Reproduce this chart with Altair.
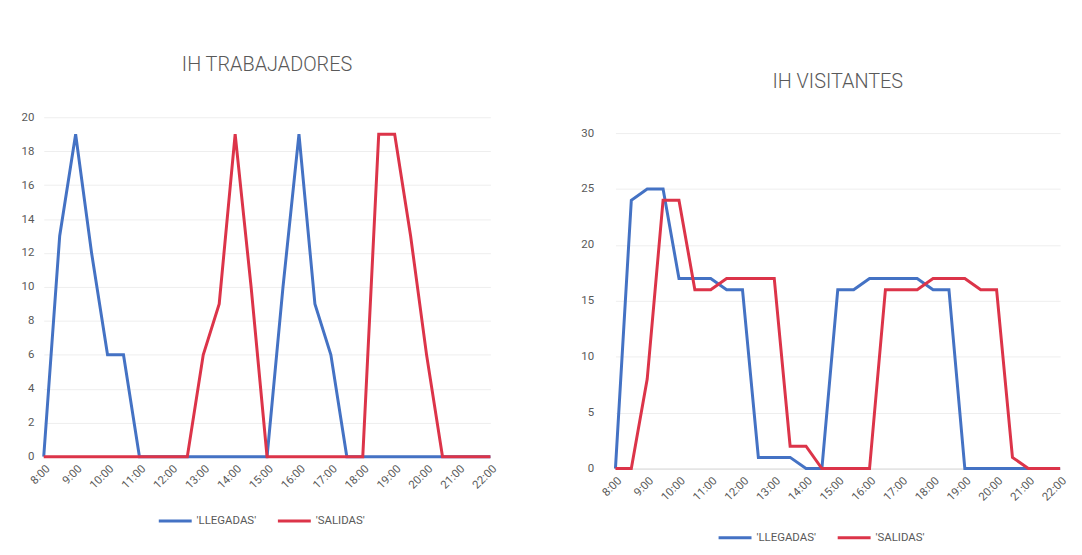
import altair as alt
import pandas as pd

times = ["8:00", "8:30", "9:00", "9:30", "10:00", "10:30", "11:00", "11:30",
         "12:00", "12:30", "13:00", "13:30", "14:00", "14:30", "15:00", "15:30",
         "16:00", "16:30", "17:00", "17:30", "18:00", "18:30", "19:00", "19:30",
         "20:00", "20:30", "21:00", "21:30", "22:00"]
hour_ticks = [8, 9, 10, 11, 12, 13, 14, 15, 16, 17, 18, 19, 20, 21, 22]
series_names = ["'LLEGADAS'", "'SALIDAS'"]

trab_llegadas = [0, 13, 19, 12, 6, 6, 0, 0, 0, 0, 0, 0, 0, 0, 0, 10, 19, 9, 6, 0,
                 0, 0, 0, 0, 0, 0, 0, 0, 0]
trab_salidas = [0, 0, 0, 0, 0, 0, 0, 0, 0, 0, 6, 9, 19, 10, 0, 0, 0, 0, 0, 0,
                0, 19, 19, 13, 6, 0, 0, 0, 0]

vis_llegadas = [0, 24, 25, 25, 17, 17, 17, 16, 16, 1, 1, 1, 0, 0, 16, 16, 17, 17, 17, 17,
                16, 16, 0, 0, 0, 0, 0, 0, 0]
vis_salidas = [0, 0, 8, 24, 24, 16, 16, 17, 17, 17, 17, 2, 2, 0, 0, 0, 0, 16, 16, 16,
               17, 17, 17, 16, 16, 1, 0, 0, 0]

BLUE = "#4472C4"
RED = "#DC3449"
TXT = "#595959"
FONT = "Roboto"

hours_num = [int(t.split(":")[0]) + int(t.split(":")[1]) / 60 for t in times]


def panel(title, llegadas, salidas, ymax, ystep, ytop, label_pad, leg_x, leg_y, w, h, toff):
    df = pd.DataFrame({
        "hora": hours_num + hours_num,
        "valor": llegadas + salidas,
        "serie": [series_names[0]] * len(times) + [series_names[1]] * len(times),
    })
    return alt.Chart(df).mark_line(strokeWidth=3).encode(
        x=alt.X("hora:Q", scale=alt.Scale(domain=[8, 22], nice=False, zero=False),
                axis=alt.Axis(values=hour_ticks, labelExpr="datum.value + ':00'",
                              labelAngle=-45, title=None,
                              ticks=False, grid=False, domainColor="#d9d9d9",
                              labelColor=TXT, labelFont=FONT, labelFontSize=11.5,
                              labelPadding=6, labelOverlap=False, labelFlush=False,
                              labelBound=False)),
        y=alt.Y("valor:Q", scale=alt.Scale(domain=[0, ytop], nice=False),
                axis=alt.Axis(values=list(range(0, ymax + 1, ystep)), title=None,
                              domain=False, ticks=False, gridColor="#eeeeee",
                              labelColor=TXT, labelFont=FONT, labelFontSize=11.5,
                              labelPadding=label_pad)),
        color=alt.Color("serie:N", scale=alt.Scale(domain=series_names, range=[BLUE, RED]),
                        legend=alt.Legend(orient="none", legendX=leg_x, legendY=leg_y,
                                          direction="horizontal", title=None,
                                          symbolType="stroke", symbolSize=1100,
                                          symbolStrokeWidth=3, labelFont=FONT,
                                          labelFontSize=11.5, labelColor=TXT,
                                          columnPadding=14, labelOffset=3)),
    ).properties(
        width=w, height=h,
        title=alt.TitleParams(text=title, font=FONT, fontSize=20, fontWeight=300,
                              color=TXT, offset=toff),
    )


left = panel("IH TRABAJADORES", trab_llegadas, trab_salidas, 20, 2, 20, 10,
             114, 388, 450, 342, 37)
right = panel("IH VISITANTES", vis_llegadas, vis_salidas, 30, 5, 31.42, 22,
              102, 405, 448, 354, 25)

chart = alt.concat(left, right, columns=2, spacing=82).properties(
    padding={"left": 13, "top": 45, "right": 5, "bottom": 5}
).resolve_scale(color="independent").resolve_legend(color="independent").configure_view(stroke=None)

chart.save("out.html", embed_options={"renderer": "svg", "actions": False})
